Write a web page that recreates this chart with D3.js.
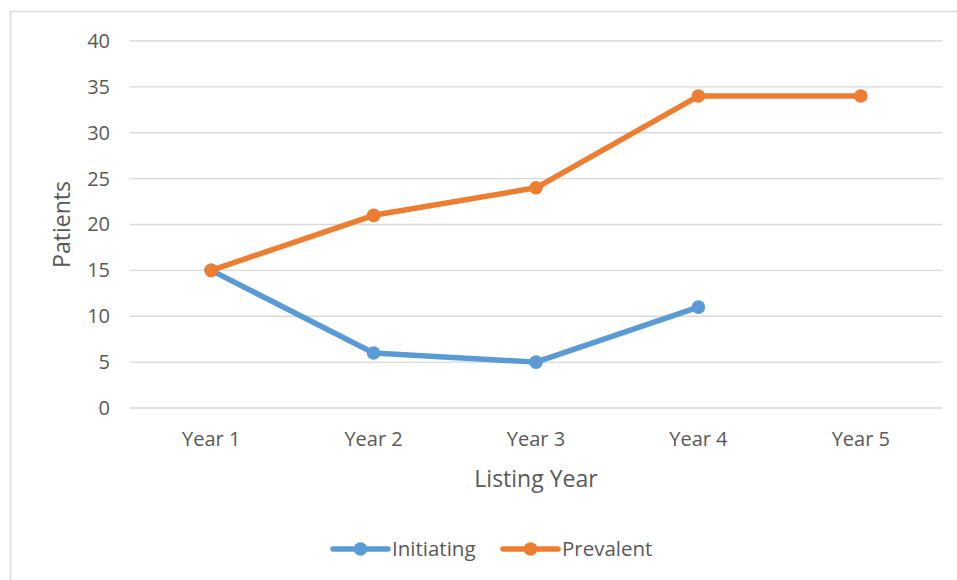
<!DOCTYPE html>
<html><head><meta charset="utf-8">
<script src="https://cdn.jsdelivr.net/npm/d3@7"></script>
<style>body{margin:0;background:#fff;} svg{display:block;font-family:"Open Sans",sans-serif;}</style>
</head><body>
<script>
const categories = ["Year 1","Year 2","Year 3","Year 4","Year 5"];
const initiating = [15, 6, 5, 11, null];
const prevalent = [15, 21, 24, 34, 34];
const yTicks = [0,5,10,15,20,25,30,35,40];
const seriesNames = ["Initiating","Prevalent"];
const colors = ["#5B9BD5","#ED7D31"];

const W=957,H=580;
const svg=d3.select("body").append("svg").attr("width",W).attr("height",H);
svg.append("rect").attr("x",10.5).attr("y",11.5).attr("width",W+20).attr("height",H+20)
  .attr("fill","none").attr("stroke","#d9d9d9").attr("stroke-width",1.5);

const L=130,R=942,T=41,B=408;
const x=d3.scaleBand().domain(categories).range([L,R]);
const y=d3.scaleLinear().domain([0,40]).range([B,T]);

const grid=svg.append("g");
grid.selectAll("line").data(yTicks).join("line")
  .attr("x1",L).attr("x2",R).attr("y1",d=>y(d)).attr("y2",d=>y(d))
  .attr("stroke","#d9d9d9").attr("stroke-width",1.3);

const yAxis=svg.append("g").attr("transform",`translate(${L},0)`)
  .call(d3.axisLeft(y).tickValues(yTicks).tickSize(0).tickPadding(20));
yAxis.select(".domain").remove();
yAxis.selectAll("text").attr("font-size",20).attr("fill","#595959").attr("font-family","Open Sans");

const xAxis=svg.append("g").attr("transform",`translate(0,${B})`)
  .call(d3.axisBottom(x).tickSize(0).tickPadding(24));
xAxis.select(".domain").remove();
xAxis.selectAll("text").attr("font-size",20).attr("fill","#595959").attr("font-family","Open Sans");

svg.append("text").attr("transform",`translate(70,${(T+B)/2}) rotate(-90)`)
  .attr("text-anchor","middle").attr("font-size",23).attr("fill","#595959").text("Patients");
svg.append("text").attr("x",(L+R)/2).attr("y",487).attr("text-anchor","middle")
  .attr("font-size",23).attr("fill","#595959").text("Listing Year");

const cx=d=>x(d)+x.bandwidth()/2;
const series=[initiating,prevalent];
series.forEach((vals,i)=>{
  const pts=categories.map((c,j)=>({c,v:vals[j]})).filter(p=>p.v!=null);
  svg.append("path").datum(pts)
    .attr("d",d3.line().x(p=>cx(p.c)).y(p=>y(p.v)))
    .attr("fill","none").attr("stroke",colors[i]).attr("stroke-width",5.5).attr("stroke-linejoin","round").attr("stroke-linecap","round");
  svg.append("g").selectAll("circle").data(pts).join("circle")
    .attr("cx",p=>cx(p.c)).attr("cy",p=>y(p.v)).attr("r",6.8).attr("fill",colors[i]);
});

const legX=[333,503];
seriesNames.forEach((n,i)=>{
  const g=svg.append("g").attr("transform",`translate(${legX[i]},549)`);
  g.append("line").attr("x1",0).attr("x2",55).attr("stroke",colors[i]).attr("stroke-width",5.5).attr("stroke-linecap","round");
  g.append("circle").attr("cx",27.5).attr("r",6.8).attr("fill",colors[i]);
  g.append("text").attr("x",59).attr("dy","0.35em").attr("font-size",20.5).attr("fill","#595959").text(n);
});
</script>
</body></html>
